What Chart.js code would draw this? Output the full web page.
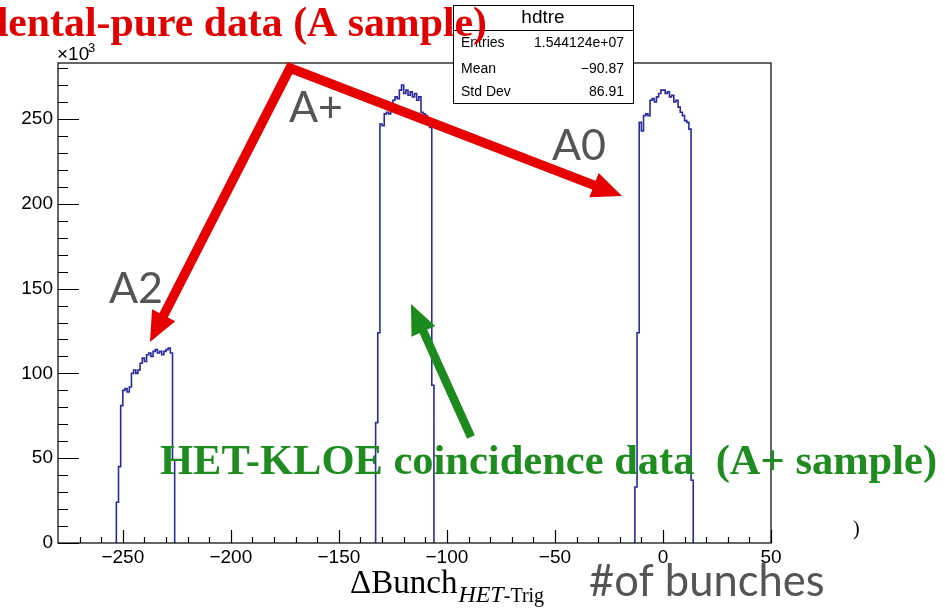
<!DOCTYPE html>
<html>
<head>
<meta charset="utf-8">
<script src="https://cdn.jsdelivr.net/npm/chart.js@4.4.1/dist/chart.umd.min.js"></script>
<style>
  html, body { margin: 0; padding: 0; background: #fff; }
  #wrap { width: 945px; height: 608px; position: relative; }
</style>
</head>
<body>
<div id="wrap"><canvas id="hdtre"></canvas></div>
<script>
// ΔBunch(HET-Trig) histogram, 1 bunch per bin, counts in units of 10^3
var xMin = -280, xMax = 50;
var yMax = 283;

// first bin (lower edge) of each populated group
var startA2 = -253;
var startAplus = -133;
var startA0 = -13;

var countsA2 = [24, 45, 81, 90, 91, 89, 92, 100, 102, 100, 102, 106, 109, 107,
                111, 112, 110, 113, 114, 112, 113, 111, 113, 114, 115, 112, 49];
var countsAplus = [71, 124, 247, 246, 253, 254, 253, 258, 261, 263, 262, 267, 270, 265,
                   267, 264, 266, 263, 265, 261, 263, 254, 253, 252, 250, 245, 93];
var countsA0 = [33, 124, 248, 243, 252, 253, 252, 261, 262, 260, 263, 265, 267, 267,
                265, 266, 263, 264, 260, 261, 257, 254, 252, 249, 248, 244, 37];

var statNames = ['Entries', 'Mean', 'Std Dev'];
var statValues = ['1.544124e+07', '\u221290.87', '86.91'];

// step outline of one group of bins, closed down to zero on both sides
function histPoints(start, counts) {
    var pts = [{ x: start, y: 0 }];
    counts.forEach(function (c, i) { pts.push({ x: start + i, y: c }); });
    pts.push({ x: start + counts.length, y: 0 });
    return pts;
}

function histDataset(start, counts) {
    return {
        data: histPoints(start, counts),
        borderColor: '#2b2b9c',
        borderWidth: 1.6,
        pointRadius: 0,
        fill: false,
        stepped: true,
        tension: 0
    };
}

// ROOT-style frame with inward ticks
var framePlugin = {
    id: 'frame',
    afterDatasetsDraw: function (chart) {
        var ctx = chart.ctx, a = chart.chartArea;
        var xs = chart.scales.x, ys = chart.scales.y;
        ctx.save();
        ctx.strokeStyle = '#000';
        ctx.lineWidth = 1.2;
        ctx.strokeRect(a.left, a.top, a.right - a.left, a.bottom - a.top);
        ctx.beginPath();
        for (var v = -270; v <= xMax; v += 10) {
            var px = Math.round(xs.getPixelForValue(v)) + 0.5;
            var len = (v % 50 === 0) ? 13 : 6;
            ctx.moveTo(px, a.bottom);
            ctx.lineTo(px, a.bottom - len);
        }
        for (var w = 0; w <= yMax; w += 10) {
            var py = Math.round(ys.getPixelForValue(w)) + 0.5;
            var ylen = (w % 50 === 0) ? 21 : 10;
            ctx.moveTo(a.left, py);
            ctx.lineTo(a.left + ylen, py);
        }
        ctx.stroke();

        // axis multiplier
        ctx.fillStyle = '#000';
        ctx.font = '19px "Liberation Sans"';
        ctx.textBaseline = 'alphabetic';
        ctx.fillText('\u00d710', 57, 60);
        ctx.font = '13px "Liberation Sans"';
        ctx.fillText('3', 88, 52);

        // x axis title
        ctx.font = '33px "Liberation Serif"';
        ctx.fillText('\u0394Bunch', 350, 593);
        var wB = ctx.measureText('\u0394Bunch').width;
        ctx.font = 'italic 24px "Liberation Serif"';
        ctx.fillText('HET', 351 + wB, 602);
        var wH = ctx.measureText('HET').width;
        ctx.font = '20px "Liberation Serif"';
        ctx.fillText('-Trig', 351 + wB + wH, 602);
        ctx.restore();
    }
};

function arrowHead(ctx, fx, fy, tx, ty, len, half) {
    var ang = Math.atan2(ty - fy, tx - fx);
    ctx.beginPath();
    ctx.moveTo(tx, ty);
    ctx.lineTo(tx - len * Math.cos(ang) + half * Math.sin(ang), ty - len * Math.sin(ang) - half * Math.cos(ang));
    ctx.lineTo(tx - len * Math.cos(ang) - half * Math.sin(ang), ty - len * Math.sin(ang) + half * Math.cos(ang));
    ctx.closePath();
    ctx.fill();
}

function shorten(fx, fy, tx, ty, d) {
    var L = Math.hypot(tx - fx, ty - fy);
    return [tx - (tx - fx) * d / L, ty - (ty - fy) * d / L];
}

var notesPlugin = {
    id: 'notes',
    afterDraw: function (chart) {
        var ctx = chart.ctx;
        ctx.save();

        // stats box
        ctx.fillStyle = '#fff';
        ctx.fillRect(453, 5, 180, 98);
        ctx.strokeStyle = '#000';
        ctx.lineWidth = 1;
        ctx.strokeRect(453.5, 5.5, 180, 98);
        ctx.beginPath();
        ctx.moveTo(453.5, 30.5);
        ctx.lineTo(633.5, 30.5);
        ctx.stroke();
        ctx.fillStyle = '#000';
        ctx.textBaseline = 'middle';
        ctx.textAlign = 'center';
        ctx.font = '19px "Liberation Sans"';
        ctx.fillText('hdtre', 543, 18);
        ctx.font = '14px "Liberation Sans"';
        var rowY = [43, 69, 92];
        statNames.forEach(function (n, i) {
            ctx.textAlign = 'left';
            ctx.fillText(n, 461, rowY[i]);
            ctx.textAlign = 'right';
            ctx.fillText(statValues[i], 624, rowY[i]);
        });

        // red arrows from the A sample label
        var apex = [290, 68], tipA2 = [150, 342], tipA0 = [622, 196];
        ctx.strokeStyle = '#e60000';
        ctx.fillStyle = '#e60000';
        ctx.lineWidth = 9.5;
        ctx.lineJoin = 'miter';
        var e1 = shorten(apex[0], apex[1], tipA2[0], tipA2[1], 26);
        var e2 = shorten(apex[0], apex[1], tipA0[0], tipA0[1], 26);
        ctx.beginPath();
        ctx.moveTo(e1[0], e1[1]);
        ctx.lineTo(apex[0], apex[1]);
        ctx.lineTo(e2[0], e2[1]);
        ctx.stroke();
        arrowHead(ctx, apex[0], apex[1], tipA2[0], tipA2[1], 30, 13);
        arrowHead(ctx, apex[0], apex[1], tipA0[0], tipA0[1], 30, 13);

        // green arrow
        var gTail = [471, 437], gTip = [411, 304];
        ctx.strokeStyle = '#1c8a1c';
        ctx.fillStyle = '#1c8a1c';
        ctx.lineWidth = 8.5;
        var g1 = shorten(gTail[0], gTail[1], gTip[0], gTip[1], 26);
        ctx.beginPath();
        ctx.moveTo(gTail[0], gTail[1]);
        ctx.lineTo(g1[0], g1[1]);
        ctx.stroke();
        arrowHead(ctx, gTail[0], gTail[1], gTip[0], gTip[1], 30, 13);

        // sample labels
        ctx.textBaseline = 'alphabetic';
        ctx.textAlign = 'left';
        ctx.fillStyle = '#555';
        ctx.font = '43px Lato';
        ctx.fillText('A+', 289, 122);
        ctx.fillText('A0', 552, 160);
        ctx.fillText('A2', 109, 303);
        ctx.font = '43.5px Lato';
        ctx.fillText('#of bunches', 589, 596);

        ctx.fillStyle = '#000';
        ctx.font = '20px "Liberation Serif"';
        ctx.fillText(')', 853, 535);

        ctx.font = 'bold 42.5px "Liberation Serif"';
        ctx.fillStyle = '#1f8c1f';
        ctx.fillText('HET-KLOE coincidence data  (A+ sample)', 160, 474);

        ctx.font = 'bold 41.8px "Liberation Serif"';
        ctx.fillStyle = '#e00000';
        ctx.textAlign = 'right';
        ctx.fillText('Accidental-pure data (A sample)', 487, 36);
        ctx.restore();
    }
};

var ctx = document.getElementById('hdtre').getContext('2d');
var chart = new Chart(ctx, {
    type: 'line',
    data: {
        datasets: [
            histDataset(startA2, countsA2),
            histDataset(startAplus, countsAplus),
            histDataset(startA0, countsA0)
        ]
    },
    options: {
        responsive: true,
        maintainAspectRatio: false,
        animation: false,
        layout: { padding: { left: 0, top: 63, right: 174, bottom: 0 } },
        plugins: {
            legend: { display: false },
            tooltip: { enabled: false }
        },
        scales: {
            x: {
                type: 'linear',
                min: xMin,
                max: xMax,
                grid: { display: false, drawTicks: false },
                border: { display: false },
                ticks: {
                    stepSize: 50,
                    includeBounds: false,
                    autoSkip: false,
                    maxRotation: 0,
                    padding: 3,
                    color: '#000',
                    font: { family: '"Liberation Sans"', size: 19 },
                    callback: function (v) { return String(v).replace('-', '\u2212'); }
                },
                afterFit: function (s) { s.height = 65; }
            },
            y: {
                min: 0,
                max: yMax,
                grid: { display: false, drawTicks: false },
                border: { display: false },
                ticks: {
                    stepSize: 50,
                    includeBounds: false,
                    padding: 5,
                    color: '#000',
                    font: { family: '"Liberation Sans"', size: 19 }
                },
                afterFit: function (s) { s.width = 58; }
            }
        }
    },
    plugins: [framePlugin, notesPlugin]
});
</script>
</body>
</html>
